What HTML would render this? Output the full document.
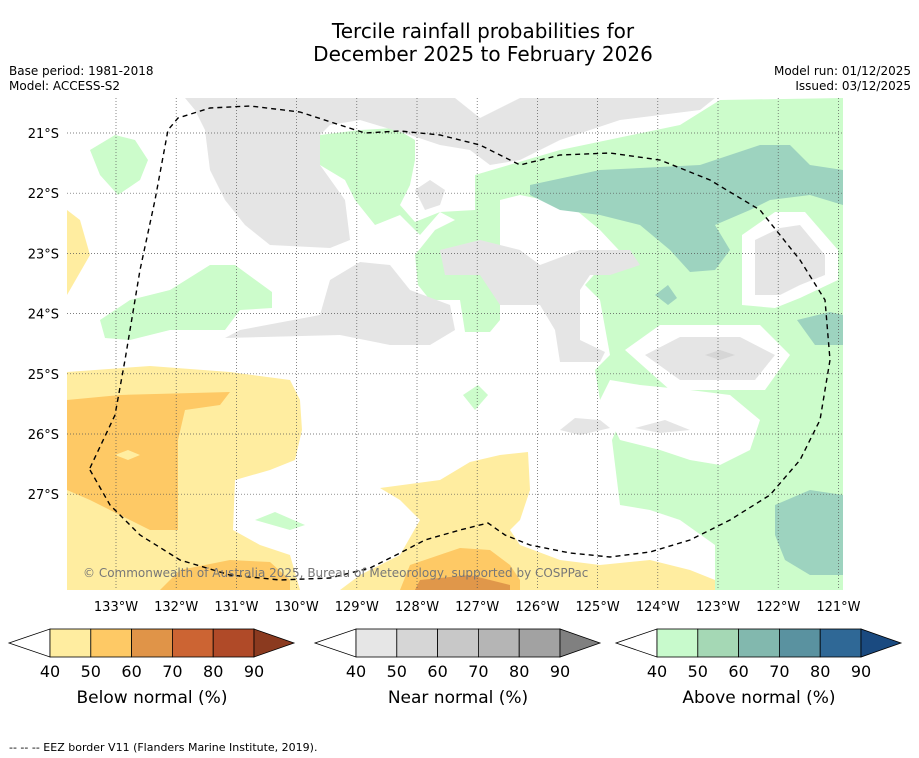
<!DOCTYPE html>
<html><head><meta charset="utf-8"><style>
body{margin:0;background:#fff;font-family:"Liberation Sans","DejaVu Sans",sans-serif;}
svg{display:block}
</style></head><body>
<svg id="c" width="919" height="758" viewBox="0 0 919 758" font-family="DejaVu Sans, Liberation Sans, sans-serif">
<text x="483" y="38" font-size="20" text-anchor="middle">Tercile rainfall probabilities for</text>
<text x="483" y="61" font-size="20" text-anchor="middle">December 2025 to February 2026</text>
<text x="9" y="75" font-size="12">Base period: 1981-2018</text>
<text x="9" y="90" font-size="12">Model: ACCESS-S2</text>
<text x="911" y="75" font-size="12" text-anchor="end">Model run: 01/12/2025</text>
<text x="911" y="90" font-size="12" text-anchor="end">Issued: 03/12/2025</text>
<defs><clipPath id="mc"><rect x="67" y="98" width="776" height="492"/></clipPath></defs>
<g id="map" clip-path="url(#mc)">
<rect x="67" y="98" width="776" height="492" fill="#fff"/>
<polygon fill="#ccfccb" points="475,175 560,150 680,125 720,100 843,98 843,590 715,590 715,545 680,520 650,510 620,505 612,440 625,410 600,400 595,370 610,355 600,300 585,285 600,268 630,262 600,230 570,205 520,195 500,200 500,295 500,320 490,332 465,332 460,300 430,300 418,285 415,255 435,230 455,220 440,212 415,222 400,205 410,185 415,160 415,140 395,128 360,130 320,135 320,165 345,180 355,200 375,225 400,215 420,235 440,212 475,210"/>
<polygon fill="#fff" points="600,400 610,380 640,385 690,390 730,395 760,420 750,450 720,465 690,460 660,450 620,440"/>
<polygon fill="#fff" points="625,350 660,325 760,325 790,355 765,390 670,390"/>
<polygon fill="#fff" points="742,235 775,212 805,212 838,250 838,280 800,298 775,308 742,305"/>
<polygon fill="#ccfccb" points="90,150 115,135 135,140 148,160 140,180 118,195 100,175"/>
<polygon fill="#ccfccb" points="100,320 130,300 170,290 210,265 235,265 272,292 272,308 240,310 225,330 170,330 130,340 105,338"/>
<polygon fill="#ccfccb" points="255,520 275,512 305,525 290,530"/>
<polygon fill="#ccfccb" points="463,395 478,385 488,395 475,410"/>
<polygon fill="#9dd3bf" points="530,185 600,170 700,165 760,145 790,145 810,165 843,170 843,205 810,195 770,200 750,210 715,225 730,250 715,270 690,272 670,250 640,225 600,215 560,210 530,195"/>
<polygon fill="#9dd3bf" points="775,505 810,490 843,495 843,575 810,575 785,560 775,535"/>
<polygon fill="#9dd3bf" points="797,320 830,312 843,315 843,345 815,345"/>
<polygon fill="#9dd3bf" points="655,295 668,285 677,298 668,305"/>
<polygon fill="#e5e5e5" points="185,98 455,98 480,118 520,98 715,98 700,110 620,120 560,140 520,160 490,165 470,150 440,145 410,135 360,120 330,125 320,135 320,165 345,200 350,240 330,248 270,245 245,225 225,200 210,170 205,130 195,110"/>
<polygon fill="#e5e5e5" points="240,330 320,315 330,280 360,262 390,265 410,290 450,305 455,330 430,345 390,345 340,335 225,338"/>
<polygon fill="#e5e5e5" points="440,250 480,240 520,250 540,265 580,250 630,250 640,265 610,275 590,275 580,290 580,340 605,352 600,362 560,362 555,330 540,305 500,305 480,275 445,275"/>
<polygon fill="#e5e5e5" points="755,240 780,228 800,225 825,255 825,275 800,285 780,295 755,295"/>
<polygon fill="#e5e5e5" points="645,355 680,337 740,337 775,355 755,380 680,380"/>
<polygon fill="#d6d6d6" points="705,355 720,350 735,355 720,360"/>
<polygon fill="#e5e5e5" points="560,430 575,418 600,420 610,428 580,435"/>
<polygon fill="#e5e5e5" points="635,428 665,420 690,430 660,433"/>
<polygon fill="#e5e5e5" points="415,190 430,180 445,190 440,205 425,210"/>
<polygon fill="#ffeda0" points="67,372 150,366 230,372 290,380 300,400 302,430 295,460 270,470 235,480 233,530 260,545 290,555 300,590 67,590"/>
<polygon fill="#ffeda0" points="67,210 80,220 90,255 67,295"/>
<polygon fill="#ffeda0" points="380,488 440,480 470,462 500,455 528,452 530,490 520,520 510,530 520,545 560,560 600,565 650,560 690,570 715,580 715,590 340,590 360,575 400,555 420,520 400,500"/>
<polygon fill="#fec965" points="67,400 120,395 230,392 220,405 185,410 178,440 178,530 150,530 110,510 90,500 67,490"/>
<polygon fill="#ffeda0" points="115,455 128,450 140,455 128,460"/>
<polygon fill="#fec965" points="180,570 230,560 270,562 290,580 290,590 160,590"/>
<polygon fill="#fec965" points="410,565 460,548 490,550 510,565 520,580 520,590 400,590"/>
<polygon fill="#e0974a" points="420,580 470,575 510,585 510,590 415,590"/>
<g id="grid"></g>
<polyline fill="none" stroke="#000" stroke-width="1.4" stroke-dasharray="5,4" points="90,468 115,415 125,360 140,270 155,200 168,130 178,118 210,108 250,106 300,112 340,125 365,133 400,131 440,135 480,145 520,165 560,155 610,153 660,160 710,180 760,210 800,260 825,300 830,360 820,420 800,460 770,495 730,520 690,540 650,552 610,557 570,553 530,545 505,535 488,523 460,530 425,540 400,553 370,568 330,578 280,580 230,575 180,560 140,535 110,505 90,470"/>
<text x="83" y="577" font-size="12" fill="#777">© Commonwealth of Australia 2025, Bureau of Meteorology, supported by COSPPac</text>
</g>
<g id="axes"></g>
<g id="cbars"></g>
<text x="9" y="751" font-size="11">-- -- -- EEZ border V11 (Flanders Marine Institute, 2019).</text>
</svg>
<script>
const lonTicks=[133,132,131,130,129,128,127,126,125,124,123,122,121];
const latTicks=[21,22,23,24,25,26,27];
const cbLabels=[40,50,60,70,80,90];
const belowColors=["#ffeda0","#fec965","#e09448","#cc6433","#b04a28"];
const nearColors=["#e6e6e6","#d6d6d6","#c8c8c8","#b5b5b5","#a2a2a2"];
const aboveColors=["#c8facc","#a5d8b5","#82b8ae","#5a92a0","#2f6896"];
const tipColors=["#8b3a1f","#808080","#1a4a80"];
const cbTitles=["Below normal (%)","Near normal (%)","Above normal (%)"];
const NS="http://www.w3.org/2000/svg";
const xLon=l=>116+(133-l)*60.2;
const yLat=l=>133+(l-21)*60.2;
function mk(t,a,p){const e=document.createElementNS(NS,t);for(const k in a)e.setAttribute(k,a[k]);p.appendChild(e);return e;}
const grid=document.getElementById('grid'),axes=document.getElementById('axes');
lonTicks.forEach(l=>{const x=xLon(l);
const g=mk('line',{x1:x,x2:x,y1:98,y2:590,stroke:'#555','stroke-width':0.7,'stroke-dasharray':'1,2'},grid);


const t=mk('text',{x:x,y:611,'font-size':13,'text-anchor':'middle'},axes);t.textContent=l+'°W';

});
latTicks.forEach(l=>{const y=yLat(l);
const g=mk('line',{x1:67,x2:843,y1:y,y2:y,stroke:'#555','stroke-width':0.7,'stroke-dasharray':'1,2'},grid);


const t=mk('text',{x:59,y:y+5,'font-size':13,'text-anchor':'end'},axes);t.textContent=l+'°S';

});
const cb=document.getElementById('cbars');
[belowColors,nearColors,aboveColors].forEach((cols,i)=>{
const x0=[50,356,657][i],w=40.8,y0=629,h=28;
const lt=mk('polygon',{points:`${x0},${y0} ${x0},${y0+h} ${x0-41},${y0+h/2}`,fill:'#fff',stroke:'#000','stroke-width':0.8},cb);


cols.forEach((c,j)=>{const r=mk('rect',{x:x0+j*w,y:y0,width:w,height:h,fill:c,stroke:'#000','stroke-width':0.8},cb);

});
const xe=x0+5*w;
const rt=mk('polygon',{points:`${xe},${y0} ${xe},${y0+h} ${xe+40},${y0+h/2}`,fill:tipColors[i],stroke:'#000','stroke-width':0.8},cb);


cbLabels.forEach((v,j)=>{const t=mk('text',{x:x0+j*w,y:677,'font-size':16,'text-anchor':'middle'},cb);t.textContent=v;

});
const tt=mk('text',{x:x0+2.5*w,y:703,'font-size':17,'text-anchor':'middle'},cb);tt.textContent=cbTitles[i];


});
</script>
</body></html>
